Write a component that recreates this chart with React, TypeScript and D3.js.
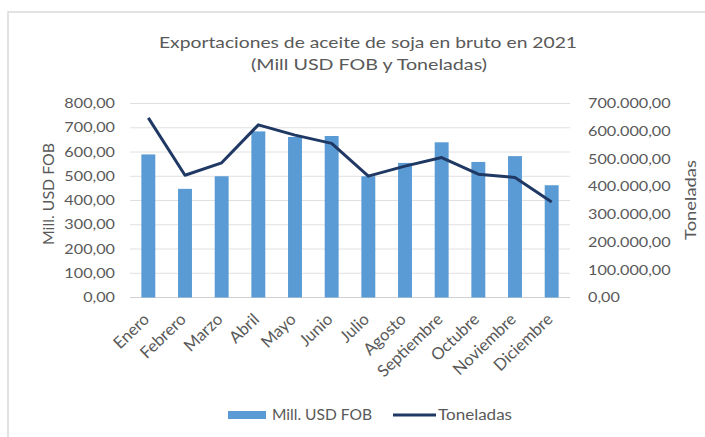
import React from "react";
import * as d3 from "d3";

const months = ["Enero","Febrero","Marzo","Abril","Mayo","Junio","Julio","Agosto","Septiembre","Octubre","Noviembre","Diciembre"];
const usdFob = [590, 448, 500, 685, 662, 666, 500, 555, 640, 559, 583, 463];
const toneladas = [648000, 441000, 486000, 623000, 586000, 556000, 438000, 474000, 505000, 445000, 433000, 345000];
const leftTicks = [0, 100, 200, 300, 400, 500, 600, 700, 800];
const rightTicks = [0, 100000, 200000, 300000, 400000, 500000, 600000, 700000];
const titleLines = ["Exportaciones de aceite de soja en bruto en 2021", "(Mill USD FOB y Toneladas)"];
const legendLabels = ["Mill. USD FOB", "Toneladas"];

const W = 705, H = 437;
const plot = { left: 130, right: 570, top: 103.5, bottom: 297.5 };
const FONT = "Lato, 'Open Sans', sans-serif";
const TXT = "#595959";
const SX = 1.2;

const fmt = (v: number) => {
  const s = d3.format(",.2f")(v);
  return s.replace(/,/g, "#").replace(".", ",").replace(/#/g, ".");
};

export default function App() {
  const x = d3.scaleBand<string>().domain(months).range([plot.left, plot.right]).paddingInner(0.62).paddingOuter(0.31);
  const yL = d3.scaleLinear().domain([0, 800]).range([plot.bottom, plot.top]);
  const yR = d3.scaleLinear().domain([0, 700000]).range([plot.bottom, plot.top]);
  const line = d3.line<number>()
    .x((_, i) => (x(months[i]) as number) + x.bandwidth() / 2)
    .y((d) => yR(d));

  return (
    <svg width={W} height={H} style={{ position: "absolute", left: 0, top: 0, background: "#fff" }} fontFamily={FONT}>
      <rect x={8} y={12} width={W} height={H} fill="#fff" stroke="#d9d9d9" strokeWidth={1.5} />
      <text x={368} y={48} textAnchor="middle" fontSize={16} fill={TXT} textLength={418} lengthAdjust="spacingAndGlyphs">{titleLines[0]}</text>
      <text x={369} y={70} textAnchor="middle" fontSize={16} fill={TXT} textLength={236} lengthAdjust="spacingAndGlyphs">{titleLines[1]}</text>
      {leftTicks.map((t) => (
        <line key={t} x1={plot.left} x2={plot.right} y1={yL(t)} y2={yL(t)} stroke={t === 0 ? "#d0d0d0" : "#e0e0e0"} strokeWidth={1} />
      ))}
      {months.map((m, i) => (
        <rect key={m} x={x(m)} y={yL(usdFob[i])} width={x.bandwidth()} height={yL(0) - yL(usdFob[i])} fill="#5b9bd5" />
      ))}
      <path d={line(toneladas) || ""} fill="none" stroke="#1f3864" strokeWidth={3} strokeLinejoin="round" />
      {leftTicks.map((t) => (
        <text key={t} transform={`translate(115,${yL(t)}) scale(${SX},1)`} dy="0.35em" textAnchor="end" fontSize={13.5} fill={TXT}>{fmt(t)}</text>
      ))}
      {rightTicks.map((t) => (
        <text key={t} transform={`translate(588,${yR(t)}) scale(${SX},1)`} dy="0.35em" textAnchor="start" fontSize={13.5} fill={TXT}>{fmt(t)}</text>
      ))}
      <text transform={`translate(54,194) rotate(-90)`} textAnchor="middle" fontSize={16} fill={TXT} textLength={102} lengthAdjust="spacingAndGlyphs">Mill. USD FOB</text>
      <text transform={`translate(696,200) rotate(-90)`} textAnchor="middle" fontSize={16} fill={TXT} textLength={80} lengthAdjust="spacingAndGlyphs">Toneladas</text>
      {months.map((m) => {
        const cx = (x(m) as number) + x.bandwidth() / 2;
        return (
          <text key={m} transform={`translate(${cx + 2},${plot.bottom + 23}) rotate(-44)`} textAnchor="end" fontSize={16.5} fill={TXT}>{m}</text>
        );
      })}
      <rect x={228} y={411} width={38} height={8} fill="#5b9bd5" />
      <text x={272} y={420} fontSize={14.5} fill={TXT} textLength={100} lengthAdjust="spacingAndGlyphs">{legendLabels[0]}</text>
      <line x1={393} x2={436} y1={415} y2={415} stroke="#1f3864" strokeWidth={3} />
      <text x={438} y={420} fontSize={14.5} fill={TXT} textLength={74} lengthAdjust="spacingAndGlyphs">{legendLabels[1]}</text>
    </svg>
  );
}
